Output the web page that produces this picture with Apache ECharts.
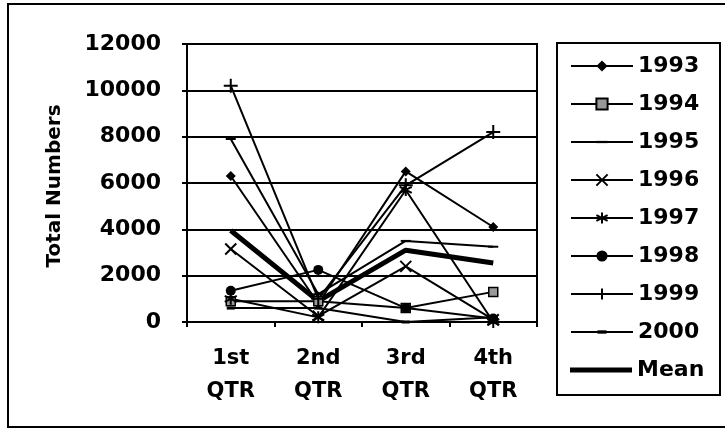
<!DOCTYPE html>
<html>
<head>
<meta charset="UTF-8">
<title>Total Numbers by Quarter</title>
<script src="https://cdn.jsdelivr.net/npm/echarts@6/dist/echarts.min.js"></script>
<style>
  body { margin: 0; background: #fff; }
  #chart { width: 725px; height: 431px; }
</style>
</head>
<body>
<div id="chart"></div>
<script>
// quarters (two-line labels as in the original)
var quarters = ['1st\nQTR', '2nd\nQTR', '3rd\nQTR', '4th\nQTR'];
var yTicks = [0, 2000, 4000, 6000, 8000, 10000, 12000];

// values
var y1993 = [6300, 800, 6500, 4100];
var y1994 = [900, 900, 600, 1300];
var y1995 = [7900, 1200, 3500, 3250];
var y1996 = [3150, 250, 2400, 100];
var y1997 = [1000, 200, 5700, 0];
var y1998 = [1350, 2250, 600, 150];
var y1999 = [10200, 1000, 5900, 8200];
var y2000 = [600, 600, 0, 200];
var yMean = [3950, 900, 3100, 2550];

var FONT = 'DejaVu Sans';

function line(name, data, symbol, size, item, width) {
	return {
		name: name,
		type: 'line',
		data: data,
		symbol: symbol,
		symbolSize: size,
		showSymbol: symbol !== 'none',
		lineStyle: { color: '#000', width: width || 2 },
		itemStyle: item || { color: '#000' },
		emphasis: { disabled: true },
		animation: false
	};
}

var strokeItem = { color: '#000', borderColor: '#000', borderWidth: 2 };
// dash markers: the extra moveTo points keep a square box so the dash is not stretched
var dashThin = 'path://M0 0M10 10M0 4H10V6H0Z';
var dashThick = 'path://M0 0M10 10M1 3.5H9V6.5H1Z';

var series = [
	line('1993', y1993, 'diamond', 10),
	line('1994', y1994, 'rect', 9, { color: '#999', borderColor: '#000', borderWidth: 1.5 }),
	line('1995', y1995, dashThin, 10),
	line('1996', y1996, 'path://M0 0L10 10M10 0L0 10', 11, strokeItem),
	line('1997', y1997, 'path://M5 0L5 10M0.7 2.5L9.3 7.5M9.3 2.5L0.7 7.5', 12, strokeItem),
	line('1998', y1998, 'circle', 10),
	line('1999', y1999, 'path://M5 0L5 10M0 5L10 5', 14, strokeItem),
	line('2000', y2000, dashThick, 10),
	line('Mean', yMean, 'none', 0, null, 5)
];

var legendText = { color: '#000', fontFamily: FONT, fontWeight: 'bold', fontSize: 22, lineHeight: 24 };

var option = {
	backgroundColor: '#fff',
	animation: false,
	textStyle: { fontFamily: FONT, color: '#000' },
	grid: {
		left: 187, right: 188, top: 44, bottom: 109,
		show: true, borderColor: '#000', borderWidth: 2
	},
	xAxis: {
		type: 'category',
		data: quarters,
		boundaryGap: true,
		axisLine: { lineStyle: { color: '#000', width: 2 } },
		axisTick: { show: true, length: 5, lineStyle: { color: '#000', width: 2 } },
		axisLabel: {
			color: '#000', fontFamily: FONT, fontWeight: 'bold',
			fontSize: 21, lineHeight: 33, margin: 20
		}
	},
	yAxis: {
		type: 'value',
		min: yTicks[0],
		max: yTicks[yTicks.length - 1],
		interval: 2000,
		axisLine: { show: true, lineStyle: { color: '#000', width: 2 } },
		axisTick: { show: true, length: 5, lineStyle: { color: '#000', width: 2 } },
		splitLine: { lineStyle: { color: '#000', width: 2 } },
		axisLabel: {
			color: '#000', fontFamily: FONT, fontWeight: 'bold',
			fontSize: 22, margin: 26,
			formatter: function (v) { return String(v); }
		}
	},
	legend: [{
		orient: 'vertical',
		left: 565,
		top: 49,
		itemWidth: 62,
		itemHeight: 14,
		itemGap: 14,
		textStyle: legendText,
		data: series.slice(0, 8).map(function (s) { return s.name; })
	}, {
		// Mean has no marker, so it gets its own legend with a plain thick bar
		orient: 'vertical',
		left: 565,
		top: 49 + 8 * 38,
		icon: 'rect',
		itemWidth: 62,
		itemHeight: 5,
		textStyle: legendText,
		data: ['Mean']
	}],
	graphic: [
		{ type: 'rect', shape: { x: 8, y: 4, width: 740, height: 423 }, style: { fill: 'none', stroke: '#000', lineWidth: 2 }, silent: true },
		{ type: 'rect', shape: { x: 557, y: 43, width: 163, height: 352 }, style: { fill: 'none', stroke: '#000', lineWidth: 2 }, silent: true },
		{
			type: 'text', x: 55, y: 186, rotation: Math.PI / 2,
			style: { text: 'Total Numbers', fill: '#000', font: 'bold 20px "DejaVu Sans"', textAlign: 'center', textVerticalAlign: 'middle' },
			silent: true
		}
	],
	series: series
};

var chart = echarts.init(document.getElementById('chart'));
chart.setOption(option);
</script>
</body>
</html>
